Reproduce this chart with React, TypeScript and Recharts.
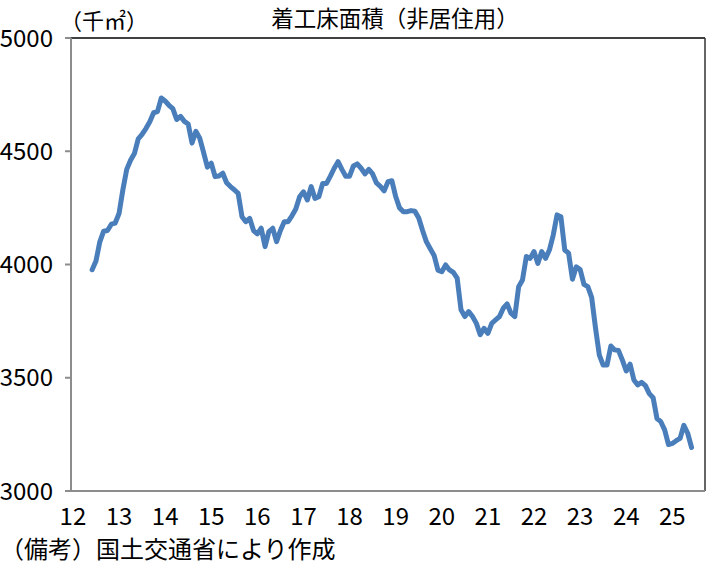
import React from "react";
import { LineChart, Line, XAxis, YAxis, ReferenceLine } from "recharts";

// Year tick labels (each at January of that year)
const yearLabels = ["12", "13", "14", "15", "16", "17", "18", "19", "20", "21", "22", "23", "24", "25"];
// Month index (from Jan 2012) of the first data point
const firstMonthIndex = 5;
// 着工床面積（非居住用）, 千㎡, monthly
const values = [
  3977, 4015, 4100, 4147, 4150, 4178, 4183, 4225, 4330, 4420,
  4460, 4490, 4555, 4575, 4600, 4630, 4670, 4675, 4735, 4722,
  4703, 4688, 4640, 4654, 4632, 4620, 4536, 4588, 4558, 4495,
  4430, 4447, 4388, 4391, 4403, 4361, 4344, 4330, 4314, 4211,
  4189, 4204, 4150, 4135, 4160, 4079, 4145, 4160, 4101, 4150,
  4189, 4189, 4215, 4245, 4299, 4321, 4285, 4344, 4292, 4299,
  4358, 4358, 4390, 4425, 4454, 4420, 4390, 4390, 4435, 4444,
  4425, 4400, 4420, 4400, 4360, 4345, 4325, 4366, 4370, 4300,
  4250, 4233, 4233, 4238, 4235, 4205, 4150, 4100, 4070, 4040,
  3975, 3968, 3998, 3976, 3965, 3940, 3800, 3770, 3792, 3770,
  3740, 3690, 3718, 3696, 3740, 3755, 3770, 3807, 3826, 3785,
  3770, 3902, 3932, 4035, 4027, 4057, 4005, 4057, 4027, 4064,
  4130, 4219, 4211, 4064, 4050, 3935, 3990, 3978, 3912, 3902,
  3855, 3720, 3600, 3556, 3556, 3640, 3623, 3620, 3578, 3530,
  3560, 3490, 3468, 3480, 3465, 3430, 3412, 3320, 3306, 3270,
  3205, 3210, 3222, 3232, 3290, 3255, 3192,
];
const yTicks = [3000, 3500, 4000, 4500, 5000];

const data = values.map((v, i) => ({ m: firstMonthIndex + i, v }));
const xTicks = yearLabels.map((_, i) => i * 12);

const numFont = "'Liberation Sans Narrow', 'Noto Sans CJK JP', sans-serif";
const jpFont = "'Noto Sans CJK JP', sans-serif";

export default function App() {
  return (
    <div style={{ position: "absolute", left: 0, top: 0, width: 712, height: 572, background: "#fff" }}>
      <LineChart width={712} height={572} data={data} margin={{ top: 38, right: 7, bottom: 0, left: 0 }}>
        <XAxis
          dataKey="m"
          type="number"
          domain={[-0.5, 164.5]}
          ticks={xTicks}
          tickFormatter={(t: number) => yearLabels[Math.round(t / 12)]}
          tickLine={false}
          tickSize={6}
          tickMargin={11}
          height={81}
          axisLine={{ stroke: "#8c8c8c", strokeWidth: 2 }}
          tick={{ fill: "#000", fontSize: 24, fontFamily: numFont }}
          interval={0}
          allowDataOverflow
        />
        <YAxis
          type="number"
          domain={[3000, 5000]}
          ticks={yTicks}
          width={71}
          tickSize={6}
          tickMargin={12}
          tickLine={{ stroke: "#8c8c8c", strokeWidth: 2 }}
          axisLine={{ stroke: "#8c8c8c", strokeWidth: 2 }}
          tick={{ fill: "#000", fontSize: 24, fontFamily: numFont }}
          interval={0}
        />
        <ReferenceLine y={5000} stroke="#000" strokeWidth={1.5} />
        <ReferenceLine x={164.5} stroke="#333" strokeWidth={1.5} />
        <Line
          type="linear"
          dataKey="v"
          stroke="#4a7ebb"
          strokeWidth={5}
          dot={false}
          isAnimationActive={false}
          strokeLinejoin="round"
          strokeLinecap="round"
        />
      </LineChart>
      <div style={{ position: "absolute", left: 60, top: 6, fontSize: 22, fontFamily: jpFont, lineHeight: "26px", whiteSpace: "nowrap" }}>
        （千㎡）
      </div>
      <div style={{ position: "absolute", left: 0, width: 790, top: 3, textAlign: "center", fontSize: 22.5, fontFamily: jpFont, lineHeight: "28px", whiteSpace: "nowrap" }}>
        着工床面積（非居住用）
      </div>
      <div style={{ position: "absolute", left: 0, top: 533, fontSize: 24, fontFamily: jpFont, lineHeight: "30px", whiteSpace: "nowrap" }}>
        （備考）国土交通省により作成
      </div>
    </div>
  );
}
